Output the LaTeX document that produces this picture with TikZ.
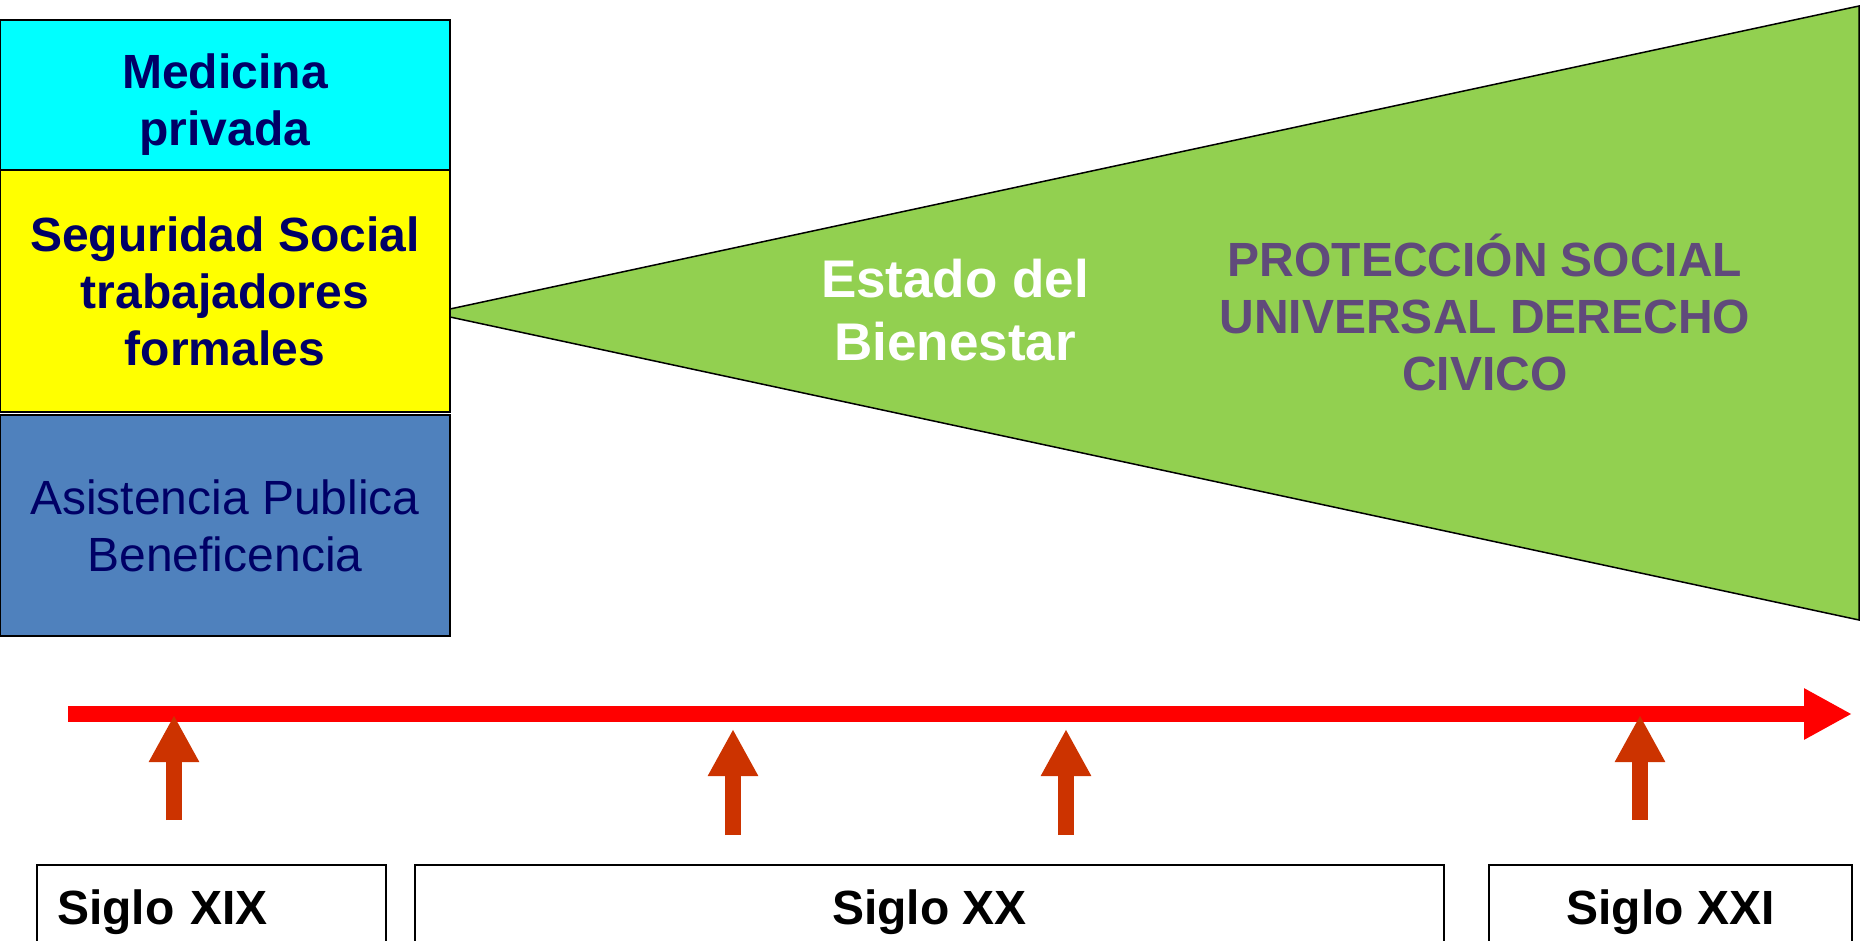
\documentclass[tikz,border=0pt]{standalone}
\usepackage{fontspec}
\setmainfont{Liberation Sans}
\usetikzlibrary{arrows.meta}

\definecolor{medcyan}{HTML}{00FFFF}
\definecolor{segyellow}{HTML}{FFFF00}
\definecolor{asisblue}{HTML}{4F81BD}
\definecolor{estadogreen}{HTML}{92D050}
\definecolor{navytext}{HTML}{000066}
\definecolor{protpurple}{HTML}{604A7B}
\definecolor{markerred}{HTML}{CC3300}

\begin{document}
\begin{tikzpicture}[x=1pt, y=-1pt,
                    line width=1.5pt,
                    ]
    \tikzstyle{stackbox}=[draw=black, minimum width=450pt, inner sep=0pt, align=center, text=navytext, font=\bfseries\fontsize{48}{57}\selectfont]
    \tikzstyle{asisbox}=[stackbox, fill=asisblue, font=\fontsize{48}{57}\selectfont];
    \tikzstyle{siglobox}=[draw=black, minimum height=95pt, inner sep=0pt, font=\bfseries\fontsize{48}{57}\selectfont];
    \tikzstyle{timeline}=[draw=red, line width=16pt, -{Triangle[length=48pt,width=48pt]}];
    \tikzstyle{marker}=[draw=markerred, line width=16pt, -{Triangle[length=47pt,width=47pt]}];

    \useasboundingbox (0,0) rectangle (1866,941);

    \node[stackbox, fill=medcyan, minimum height=150pt, text height=111pt, text depth=10pt] (medicina) at (225,95) {Medicina\\privada};
    \node[stackbox, fill=segyellow, minimum height=242pt] (seguridad) at (225,291) {Seguridad Social\\trabajadores\\formales};
    \node[asisbox, minimum height=221pt] (asistencia) at (225,525.5) {Asistencia Publica\\Beneficencia};

    % wedge
    \coordinate (tipup) at (450,309);
    \coordinate (tipdown) at (450,317);
    \draw[fill=estadogreen] (tipup) -- (1859,6) -- (1859,620) -- (tipdown) -- cycle;
    \node[align=center, text=white, font=\bfseries\fontsize{53}{63}\selectfont] (estado) at (955,310) {Estado del\\Bienestar};
    \node[align=center, text=protpurple, font=\bfseries\fontsize{48}{57}\selectfont] (proteccion) at (1485,312) {PROTECCIÓN SOCIAL\\UNIVERSAL DERECHO\\CIVICO};

    % time axis
    \coordinate (tstart) at (68,714);
    \coordinate (tend) at (1852,714);
    \draw[timeline] (tstart) -- (tend);
    \foreach \x/\top/\bot [count=\i] in {174/715/820, 733/729/835, 1066/729/835, 1640/715/820} {
        \coordinate (m\i-from) at (\x,\bot);
        \coordinate (m\i-to) at (\x,\top);
        \draw[marker] (m\i-from) -- (m\i-to);
    }

    \node[siglobox, minimum width=349pt, text width=309pt, inner xsep=20pt, align=left] (xix) at (211.5,912.5) {Siglo XIX};
    \node[siglobox, minimum width=1029pt] (xx) at (929.5,912.5) {Siglo XX};
    \node[siglobox, minimum width=363pt] (xxi) at (1670.5,912.5) {Siglo XXI};
\end{tikzpicture}
\end{document}
